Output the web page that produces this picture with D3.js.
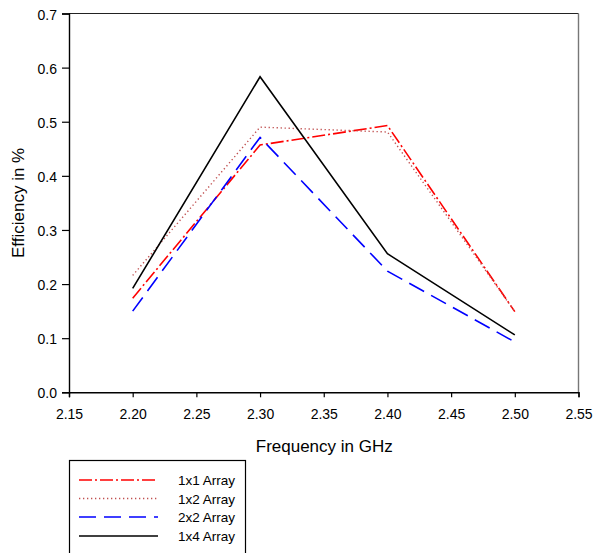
<!DOCTYPE html>
<html>
<head>
<meta charset="utf-8">
<script src="https://cdn.jsdelivr.net/npm/d3@7"></script>
<style>
html,body{margin:0;padding:0;background:#fff;}
svg{display:block;font-family:"Liberation Sans",Arial,sans-serif;}
</style>
</head>
<body>
<svg id="chart" width="594" height="553"></svg>
<script>
const frequencies = [2.2, 2.3, 2.4, 2.5];
const array1x1 = [0.174, 0.457, 0.493, 0.149];
const array1x2 = [0.216, 0.490, 0.481, 0.149];
const array2x2 = [0.150, 0.471, 0.224, 0.093];
const array1x4 = [0.192, 0.583, 0.256, 0.106];
const seriesNames = ["1x1 Array", "1x2 Array", "2x2 Array", "1x4 Array"];
const xTicks = [2.15, 2.20, 2.25, 2.30, 2.35, 2.40, 2.45, 2.50, 2.55];
const yTicks = [0.0, 0.1, 0.2, 0.3, 0.4, 0.5, 0.6, 0.7];

const seriesStyles = [
  {color: "#ff0000", dash: "13,3,2,3", width: 1.6},
  {color: "#c05050", dash: "1.3,2.7", width: 1.4},
  {color: "#0000ff", dash: "17,8", width: 1.6},
  {color: "#000000", dash: null, width: 1.6}
];
const seriesValues = [array1x1, array1x2, array2x2, array1x4];

const svg = d3.select("#chart");
const pLeft = 69, pRight = 578.5, pTop = 13.5, pBottom = 392.3;
const x = d3.scaleLinear().domain([2.15, 2.55]).range([pLeft, pRight]);
const y = d3.scaleLinear().domain([0, 0.7]).range([pBottom, pTop]);

// frame top/right
svg.append("line").attr("x1", pLeft).attr("x2", pRight).attr("y1", pTop).attr("y2", pTop)
  .attr("stroke", "#222").attr("stroke-width", 1.2);
svg.append("line").attr("x1", pRight).attr("x2", pRight).attr("y1", pTop).attr("y2", pBottom)
  .attr("stroke", "#777").attr("stroke-width", 1.4);

const fontSize = "14px";
const xAxis = svg.append("g").attr("transform", `translate(0,${pBottom})`)
  .call(d3.axisBottom(x).tickValues(xTicks).tickFormat(d3.format(".2f")).tickSizeOuter(0).tickSize(5).tickPadding(12));
const yAxis = svg.append("g").attr("transform", `translate(${pLeft},0)`)
  .call(d3.axisLeft(y).tickValues(yTicks).tickFormat(d3.format(".1f")).tickSizeOuter(0).tickSize(7).tickPadding(5));
[xAxis, yAxis].forEach(a => {
  a.selectAll("text").attr("font-size", fontSize).attr("fill", "#000").attr("font-family", "Liberation Sans, Arial, sans-serif");
  a.selectAll("line").attr("stroke", "#000").attr("stroke-width", 1.2);
  a.select(".domain").attr("stroke", "#000").attr("stroke-width", 1.4);
});
yAxis.selectAll("text").attr("dy", "0.4em");

// series
const line = d3.line().x((d, i) => x(frequencies[i])).y(d => y(d));
seriesValues.forEach((vals, k) => {
  const s = seriesStyles[k];
  svg.append("path").datum(vals).attr("d", line).attr("fill", "none")
    .attr("stroke", s.color).attr("stroke-width", s.width)
    .attr("stroke-dasharray", s.dash);
});

// axis titles
svg.append("text").attr("x", (pLeft + pRight) / 2 + 0.5).attr("y", 452).attr("text-anchor", "middle")
  .attr("font-size", "17px").text("Frequency in GHz");
svg.append("text").attr("transform", `translate(24,${(pTop + pBottom) / 2}) rotate(-90)`)
  .attr("text-anchor", "middle").attr("font-size", "17px").text("Efficiency in %");

// legend
const lg = svg.append("g");
lg.append("rect").attr("x", 69.5).attr("y", 460.5).attr("width", 176).attr("height", 110)
  .attr("fill", "none").attr("stroke", "#000").attr("stroke-width", 1.2);
const rowY = [480, 498.5, 517, 536];
seriesNames.forEach((name, k) => {
  const s = seriesStyles[k];
  lg.append("line").attr("x1", 79).attr("x2", 158).attr("y1", rowY[k]).attr("y2", rowY[k])
    .attr("stroke", s.color).attr("stroke-width", s.width).attr("stroke-dasharray", s.dash);
  lg.append("text").attr("x", 178).attr("y", rowY[k] + 5).attr("font-size", "13.5px").text(name);
});
</script>
</body>
</html>
